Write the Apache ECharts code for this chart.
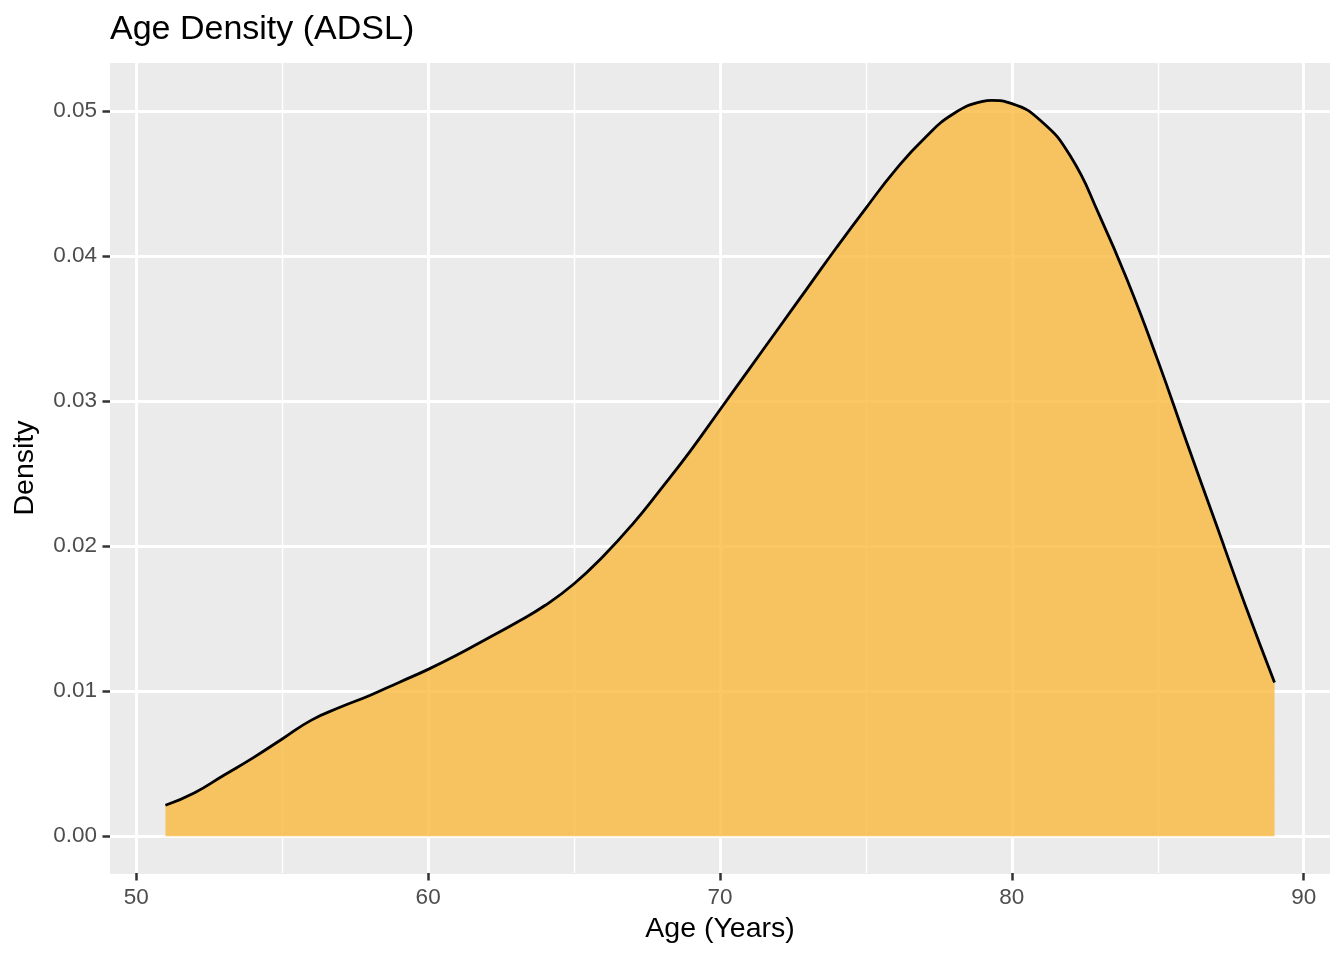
<!DOCTYPE html>
<html>
<head>
<meta charset="utf-8">
<script src="https://cdn.jsdelivr.net/npm/echarts@6/dist/echarts.min.js"></script>
<style>
  html, body { margin: 0; padding: 0; background: #ffffff; }
  #chart { width: 1344px; height: 960px; }
</style>
</head>
<body>
<div id="chart"></div>
<script>
// ---- data ----
const ages = [51, 52, 53, 54, 55, 56, 57, 58, 59, 60,
              61, 62, 63, 64, 65, 66, 67, 68, 69, 70,
              71, 72, 73, 74, 75, 76, 77, 78, 79, 79.3, 80,
              81, 82, 83, 84, 85, 86, 87, 88, 89];
const densities = [0.00213, 0.0030, 0.0042, 0.0054, 0.0067, 0.0080, 0.0089, 0.0097, 0.0106, 0.0115,
                   0.0125, 0.0136, 0.0147, 0.0159, 0.0174, 0.0193, 0.0215, 0.0240, 0.0266, 0.0294,
                   0.0322, 0.0350, 0.0378, 0.0406, 0.0433, 0.0459, 0.0481, 0.0498, 0.05065, 0.05072, 0.0505,
                   0.0493, 0.0469, 0.0428, 0.0381, 0.0328, 0.0271, 0.0215, 0.0159, 0.0106];
const xMajorTicks = [50, 60, 70, 80, 90];
const xMinorTicks = [55, 65, 75, 85];
const yMajorTicks = [0, 0.01, 0.02, 0.03, 0.04, 0.05];
const yMinorTicks = [0.005, 0.015, 0.025, 0.035, 0.045];
const titleText = 'Age Density (ADSL)';
const xTitle = 'Age (Years)';
const yTitle = 'Density';

const FONT = '"Liberation Sans", Arial, Helvetica, sans-serif';
const points = ages.map((a, i) => [a, densities[i]]);

const xMin = 49.1, xMax = 90.9;
const yMin = -0.002538, yMax = 0.0533;

const chart = echarts.init(document.getElementById('chart'), null, { renderer: 'canvas' });

const minorGrid = xMinorTicks.map(v => ({ xAxis: v }))
  .concat(yMinorTicks.map(v => ({ yAxis: v })));

chart.setOption({
  animation: false,
  backgroundColor: '#ffffff',
  title: {
    text: titleText,
    left: 105,
    top: 8,
    textStyle: { fontFamily: FONT, fontSize: 34, fontWeight: 'normal', color: '#000000' }
  },
  grid: {
    left: 110, right: 14, top: 63, bottom: 87,
    show: true, backgroundColor: '#EBEBEB', borderWidth: 0,
    containLabel: false
  },
  xAxis: {
    type: 'value', min: xMin, max: xMax, position: 'bottom',
    name: xTitle, nameLocation: 'middle', nameGap: 42,
    nameTextStyle: { fontFamily: FONT, fontSize: 28.5, color: '#000000' },
    axisLine: { show: true, onZero: false, lineStyle: { color: '#EBEBEB', width: 1 } },
    axisTick: { show: true, inside: false, customValues: xMajorTicks, length: 7.5, lineStyle: { color: '#333333', width: 2.5 } },
    axisLabel: { show: true, customValues: xMajorTicks, margin: 13, fontFamily: FONT, fontSize: 22.5, color: '#4D4D4D' },
    splitLine: { show: true, lineStyle: { color: '#FFFFFF', width: 2.8 } }
  },
  yAxis: {
    type: 'value', min: yMin, max: yMax, position: 'left',
    name: yTitle, nameLocation: 'middle', nameGap: 70, nameRotate: 90,
    nameTextStyle: { fontFamily: FONT, fontSize: 28.5, color: '#000000' },
    axisLine: { show: false, onZero: false },
    axisTick: { show: true, customValues: yMajorTicks, length: 7.5, lineStyle: { color: '#333333', width: 2.5 } },
    axisLabel: { show: true, customValues: yMajorTicks, margin: 13, fontFamily: FONT, fontSize: 22.5, color: '#4D4D4D',
                 formatter: v => Number(v).toFixed(2) },
    splitLine: { show: true, lineStyle: { color: '#FFFFFF', width: 2.8 } }
  },
  series: [
    {
      // minor panel grid lines (ggplot2 style), drawn beneath the density area
      type: 'line',
      data: [],
      silent: true,
      z: 1,
      markLine: {
        silent: true,
        z: 1,
        symbol: ['none', 'none'],
        label: { show: false },
        emphasis: { disabled: true },
        lineStyle: { color: '#FFFFFF', width: 1.4, type: 'solid' },
        data: minorGrid
      }
    },
    {
      type: 'line',
      data: points,
      smooth: 0.5,
      symbol: 'none',
      lineStyle: { color: '#000000', width: 2.8 },
      areaStyle: { color: '#FAB83D', opacity: 0.8, origin: 0 },
      z: 3
    }
  ]
});
</script>
</body>
</html>
